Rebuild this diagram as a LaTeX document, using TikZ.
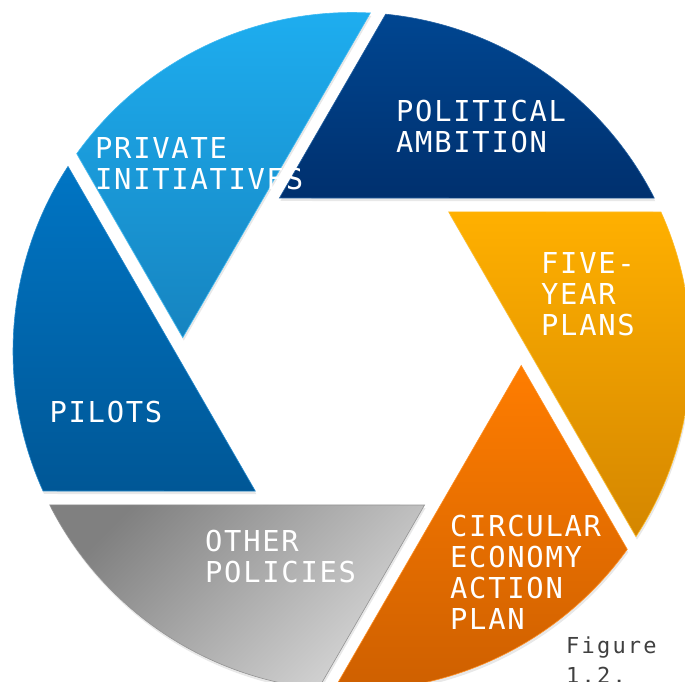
\documentclass[tikz,border=0pt]{standalone}
\usepackage{fontspec}
\usepackage{tikz}
\usetikzlibrary{shadows}

\newfontfamily\bladefont{DejaVu Sans Mono}[LetterSpace=6]
\newfontfamily\capfont{DejaVu Sans Mono}[LetterSpace=10]

\definecolor{polTop}{RGB}{0,70,145}
\definecolor{polBot}{RGB}{0,48,110}
\definecolor{priTop}{RGB}{30,174,240}
\definecolor{priBot}{RGB}{22,132,192}
\definecolor{pilTop}{RGB}{0,117,196}
\definecolor{pilBot}{RGB}{0,87,150}
\definecolor{othTop}{RGB}{128,128,128}
\definecolor{othBot}{RGB}{214,214,214}
\definecolor{cirTop}{RGB}{255,125,0}
\definecolor{cirBot}{RGB}{205,95,0}
\definecolor{fivTop}{RGB}{255,176,0}
\definecolor{fivBot}{RGB}{212,134,0}
\definecolor{capGray}{RGB}{64,64,64}

\tikzset{
  blade/.style={drop shadow={shadow xshift=1pt, shadow yshift=-3pt, opacity=0.18}},
  bladetext/.style={anchor=north west, inner sep=0pt, text=white, align=left,
    font=\bladefont\fontsize{28.8}{31}\selectfont},
}

\begin{document}
\begin{tikzpicture}[x=1pt, y=1pt]
            \useasboundingbox (-352,-330.5) rectangle (333,351.5);
            \clip (-352,-330.5) rectangle (333,351.5);
            % Draw the six blades of the shutter
            \foreach \k/\ctop/\cbot/\ang in {0/polTop/polBot/0, 1/priTop/priBot/0, 2/pilTop/pilBot/0,
                                            3/othTop/othBot/45, 4/cirTop/cirBot/0, 5/fivTop/fivBot/0} {
              \shade[blade, top color=\ctop, bottom color=\cbot, shading angle=\ang,
                     draw=\ctop!85!white, line width=0.6pt]
                ({115.3+60*\k}:169.8) -- ({26.9+60*\k}:339)
                arc[start angle={26.9+60*\k}, delta angle=57.4, radius=339] -- cycle;
            }
            % Labels
            \node[bladetext] (political) at (44,251.5) {POLITICAL\\AMBITION};
            \node[bladetext] (private) at (-257,214) {PRIVATE\\INITIATIVES};
            \node[bladetext] (fiveyear) at (189,98.8) {FIVE-\\YEAR\\PLANS};
            \node[bladetext] (circular) at (98,-163) {CIRCULAR\\ECONOMY\\ACTION\\PLAN};
            \node[bladetext] (other) at (-147,-178.5) {OTHER\\POLICIES};
            \node[bladetext] (pilots) at (-302.6,-49.5) {PILOTS};
            \node[anchor=north west, inner sep=0pt, text=capGray, align=left,
                  font=\capfont\fontsize{22}{30}\selectfont] (figure) at (214,-285.5) {Figure\\1.2.};
        \end{tikzpicture}
\end{document}
